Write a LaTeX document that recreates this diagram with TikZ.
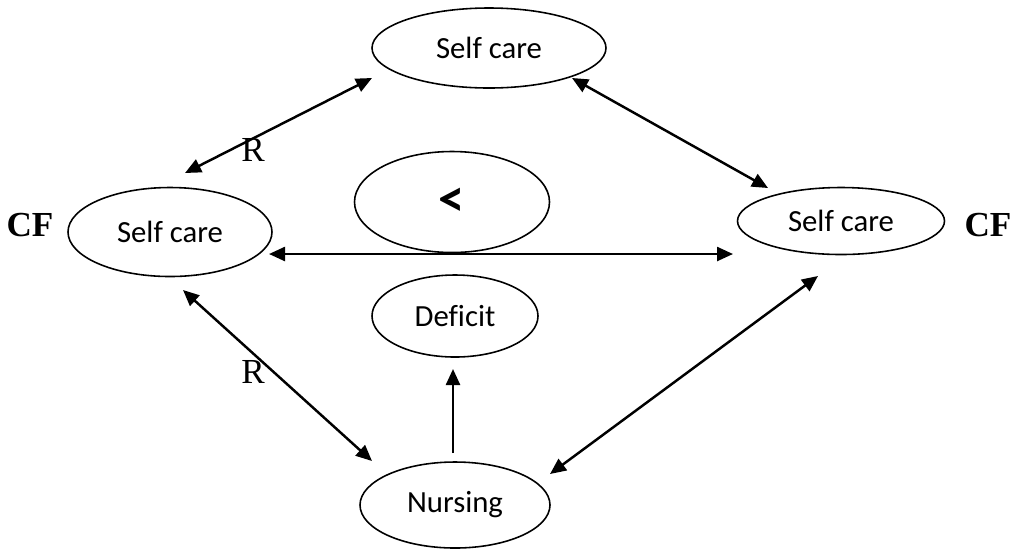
\documentclass[tikz,border=0pt]{standalone}
\usepackage{fontspec}
\setmainfont{Liberation Serif}
\newfontfamily\calibri[Ligatures=NoCommon]{Carlito}
\usetikzlibrary{shapes.geometric,arrows.meta}

\begin{document}
\begin{tikzpicture}
        [x=0.2mm,y=-0.2mm,every node/.style={draw, ellipse, inner sep = 0pt, line width = 0.9pt, font = \calibri\fontsize{17.5}{19}\selectfont},
         rel/.style={draw=none, rectangle, font = \fontsize{20}{22}\selectfont},
         link/.style={line width = 1.4pt, {Triangle[length=3.2mm,width=2.8mm]}-{Triangle[length=3.2mm,width=2.8mm]}}]
      \useasboundingbox (0,0) rectangle (1015,550);
      \node[minimum width = 46.8mm, minimum height = 16mm] (sctop) at (489,48) {Self care\hspace{5mm}};
      \node[minimum width = 40.8mm, minimum height = 17.8mm] (scleft) at (170,232) {Self care\hspace{2mm}};
      \node[minimum width = 41.4mm, minimum height = 13.4mm] (scright) at (841,221) {Self care\hspace{2.5mm}};
      \node[minimum width = 39mm, minimum height = 20.2mm, font = \calibri\bfseries\fontsize{30}{32}\selectfont] (less) at (452,202) {<\hspace{3mm}};
      \node[minimum width = 33.2mm, minimum height = 16.4mm] (deficit) at (455,316) {Deficit\hspace{1.5mm}};
      \node[minimum width = 38mm, minimum height = 17.2mm] (nursing) at (455,505) {Nursing\hspace{3.5mm}};

      \node[rel, font = \bfseries\fontsize{20}{22}\selectfont] (cfl) at (30,225) {CF};
      \node[rel, font = \bfseries\fontsize{20}{22}\selectfont] (cfr) at (988,225) {CF};
      \node[rel] (r1) at (253,150) {R};
      \node[rel] (r2) at (253,372) {R};

      \coordinate (a1) at (185,173);
      \coordinate (a2) at (372,78);
      \coordinate (b1) at (572,78);
      \coordinate (b2) at (768,188);
      \coordinate (c1) at (269,254);
      \coordinate (c2) at (733,254);
      \coordinate (d1) at (183,290);
      \coordinate (d2) at (372,461);
      \coordinate (e1) at (818,276);
      \coordinate (e2) at (550,474);
      \coordinate (f1) at (453,453);
      \coordinate (f2) at (453,369);

      \foreach \from/\to in {a1/a2, b1/b2, c1/c2, d1/d2, e1/e2}
        \draw[link] (\from) -- (\to);
      \draw[line width = 1.4pt, -{Triangle[length=3.2mm,width=2.8mm]}] (f1) -- (f2);
    \end{tikzpicture}
\end{document}
